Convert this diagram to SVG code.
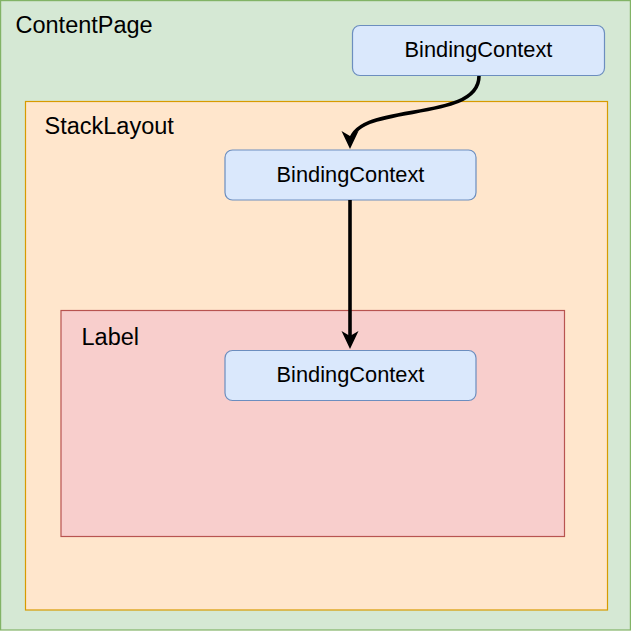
<svg xmlns="http://www.w3.org/2000/svg" width="631" height="631" viewBox="0 0 631 631">
<defs>
<style>
.lbl{font-family:"Liberation Sans",Arial,Helvetica,sans-serif;font-size:23.5px;fill:#000}
.bc rect{fill:#dae8fc;stroke:#6c8ebf;stroke-width:1.2}
.bc text{font-family:"Liberation Sans",Arial,Helvetica,sans-serif;font-size:21.8px;fill:#000;text-anchor:middle}
.conn{fill:none;stroke:#000;stroke-width:3.6}
</style>
<marker id="arr" viewBox="0 0 18 18" refX="14" refY="9" markerWidth="18" markerHeight="18" orient="auto" markerUnits="userSpaceOnUse">
<path d="M0,0.5 L18,9 L0,17.5 L5,9 Z" fill="#000"/>
</marker>
</defs>
<g id="contentpage">
<rect x="0.6" y="0.6" width="629.8" height="629.4" fill="#d5e8d4" stroke="#82b366" stroke-width="1.2"/>
<text class="lbl" x="15.5" y="33">ContentPage</text>
</g>
<g id="stacklayout">
<rect x="25.5" y="101.5" width="582" height="508.5" fill="#ffe6cc" stroke="#d79b00" stroke-width="1.2"/>
<text class="lbl" x="44.5" y="133.5">StackLayout</text>
</g>
<g id="label">
<rect x="61" y="310.5" width="503.5" height="226" fill="#f8cecc" stroke="#b85450" stroke-width="1.2"/>
<text class="lbl" x="81.5" y="344.5">Label</text>
</g>
<g id="bc-top" class="bc">
<rect x="352.5" y="25.5" width="252" height="50" rx="7.5"/>
<text x="478.5" y="57">BindingContext</text>
</g>
<g id="bc-mid" class="bc">
<rect x="225" y="150" width="251" height="50" rx="7.5"/>
<text x="350.5" y="181.5">BindingContext</text>
</g>
<g id="bc-bot" class="bc">
<rect x="225" y="350.5" width="251" height="50" rx="7.5"/>
<text x="350.5" y="382">BindingContext</text>
</g>
<g id="connectors">
<path class="conn" d="M479,76 C479,125 350,100 350,145" marker-end="url(#arr)"/>
<path class="conn" d="M350,200 L350,345" marker-end="url(#arr)"/>
</g>
</svg>
